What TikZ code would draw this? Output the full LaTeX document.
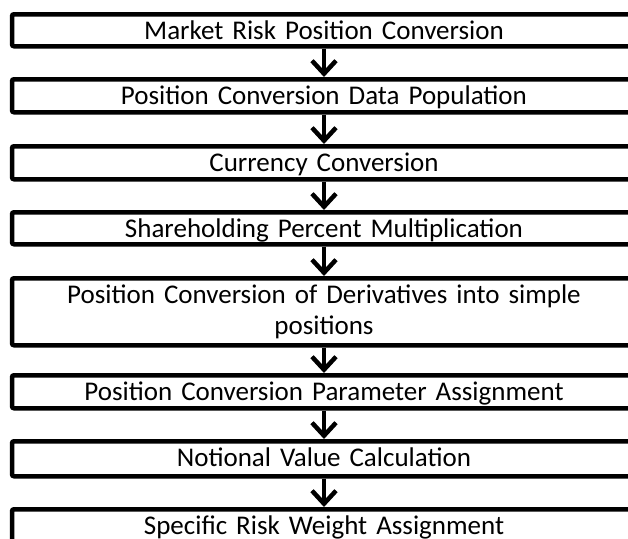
\documentclass[tikz,border=0pt]{standalone}
\usepackage{fontspec}
\setmainfont{Carlito}
\usetikzlibrary{arrows.meta}
\newcommand{\stagefont}{\fontsize{27}{31}\selectfont\fontdimen2\font=3pt\relax}
\begin{document}
\begin{tikzpicture}[x=1pt,y=1pt,
  stage/.style={draw=black, line width=4.5pt, rounded corners=2pt, fill=white,
    minimum width=624pt, text width=600pt, align=center,
    inner xsep=0pt, inner ysep=0pt, text height=25pt, anchor=north,
    font=\stagefont},
  flow/.style={line width=4.5pt, -{Straight Barb[length=13pt,width=24pt]}}]
\useasboundingbox (0,0) rectangle (628,-538);
\node[stage, text depth=7pt] (s1) at (324,-12) {Market Risk Position Conversion};
\node[stage, text depth=8pt] (s2) at (324,-77) {Position Conversion Data Population};
\node[stage, text depth=8pt] (s3) at (324,-144) {Currency Conversion};
\node[stage, text depth=7pt] (s4) at (324,-210) {Shareholding Percent Multiplication};
\node[stage, text depth=42pt] (s5) at (324,-276) {Position Conversion of Derivatives into simple\\positions};
\node[stage, text depth=8pt] (s6) at (324,-373) {Position\hspace{9pt}Conversion Parameter Assignment};
\node[stage, text depth=10pt] (s7) at (324,-439) {Notional Value Calculation};
\node[stage, text depth=9pt] (s8) at (324,-507) {Specific Risk Weight Assignment};
\draw[flow] (s1.south) -- (s2.north);
\draw[flow] (s2.south) -- (s3.north);
\draw[flow] (s3.south) -- (s4.north);
\draw[flow] (s4.south) -- (s5.north);
\draw[flow] (s5.south) -- (s6.north);
\draw[flow] (s6.south) -- (s7.north);
\draw[flow] (s7.south) -- (s8.north);
\end{tikzpicture}
\end{document}
